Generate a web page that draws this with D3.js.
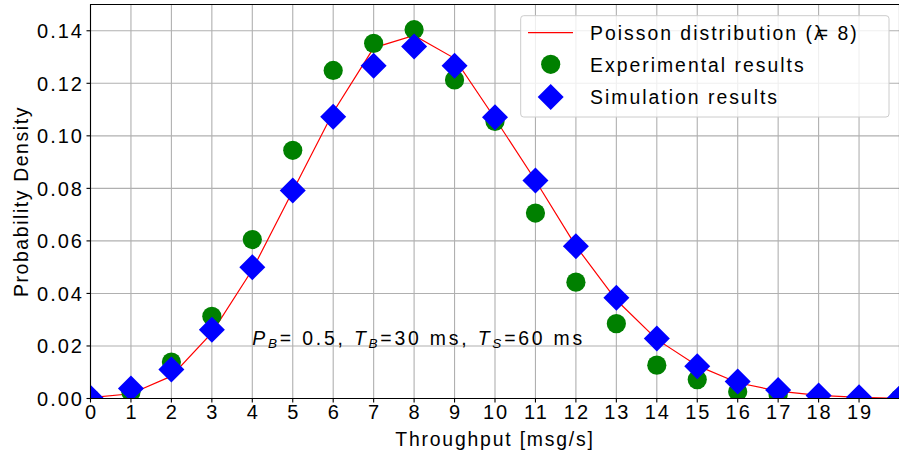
<!DOCTYPE html>
<html><head><meta charset="utf-8">
<script src="https://cdn.jsdelivr.net/npm/d3@7"></script>
<style>
body{margin:0;background:#fff}
svg{display:block}
text{font-family:"Liberation Sans",Arial,sans-serif;fill:#000}
</style>
</head><body>
<svg id="c" width="899" height="459"></svg>
<script>
// ---- data ----
const kValues     = [0,1,2,3,4,5,6,7,8,9,10,11,12,13,14,15,16,17,18,19,20];
const poissonLine = [0.0003,0.0018,0.0085,0.0250,0.0490,0.0790,0.1090,0.1335,0.1382,0.1295,0.1066,0.0830,0.0580,0.0375,0.0225,0.0125,0.0060,0.0028,0.0012,0.0004,0.0001];
const experimental= [0.0000,0.0024,0.0139,0.0313,0.0605,0.0945,0.1249,0.1352,0.1404,0.1213,0.1055,0.0706,0.0443,0.0285,0.0127,0.0072,0.0026,0.0015,0.0005,0.0000,0.0000];
const simulation  = [0.0003,0.0038,0.0110,0.0262,0.0500,0.0792,0.1073,0.1267,0.1340,0.1267,0.1071,0.0830,0.0580,0.0384,0.0228,0.0123,0.0065,0.0032,0.0011,0.0005,0.0001];
const xTicks = [0,1,2,3,4,5,6,7,8,9,10,11,12,13,14,15,16,17,18,19];
const yTicks = [0,0.02,0.04,0.06,0.08,0.10,0.12,0.14];
const legendLabels = ["Poisson distribution (λ", "Experimental results", "Simulation results"];

// ---- layout ----
const L = 90.5, R = 899.5, T = 4.5, B = 398.5;
const FS = 19.4;
const x = d3.scaleLinear().domain([0, 20]).range([L, R]);
const y = d3.scaleLinear().domain([0, 0.15]).range([B, T]);

const svg = d3.select("#c");
svg.append("defs").append("clipPath").attr("id","clip")
  .append("rect").attr("x",L).attr("y",T).attr("width",R-L).attr("height",B-T);

// grid
const grid = svg.append("g").attr("stroke","#b0b0b0").attr("stroke-width",1.1);
grid.selectAll("line.gx").data(xTicks).join("line")
  .attr("x1",d=>x(d)).attr("x2",d=>x(d)).attr("y1",T).attr("y2",B);
grid.selectAll("line.gy").data(yTicks).join("line").attr("class","gy")
  .attr("x1",L).attr("x2",R).attr("y1",d=>y(d)).attr("y2",d=>y(d));

// annotation (inside axes)
const ann = svg.append("text").attr("x",x(4)).attr("y",y(0.02)-0.5)
  .attr("font-size",FS).style("letter-spacing","2.8px");
function sub(main, s, rest){
  ann.append("tspan").attr("font-style","italic").text(main);
  ann.append("tspan").attr("font-style","italic").attr("font-size",13.5).attr("dy",3).text(s);
  ann.append("tspan").attr("dy",-3).text(rest);
}
sub("P","B","= 0.5, ");
sub("T","B","=30 ms, ");
sub("T","S","=60 ms");

// plot contents
const plot = svg.append("g").attr("clip-path","url(#clip)");
const pts = kValues.map((k,i)=>({k, p:poissonLine[i], e:experimental[i], s:simulation[i]}));
plot.append("path").datum(pts)
  .attr("fill","none").attr("stroke","#ff0000").attr("stroke-width",1.2)
  .attr("d", d3.line().x(d=>x(d.k)).y(d=>y(d.p)));
plot.selectAll("circle.e").data(pts).join("circle").attr("class","e")
  .attr("cx",d=>x(d.k)).attr("cy",d=>y(d.e)).attr("r",9.6).attr("fill","#008000");
const D = 13;
const diamond = `M0,${-D}L${D},0L0,${D}L${-D},0Z`;
plot.selectAll("path.s").data(pts).join("path").attr("class","s")
  .attr("transform",d=>`translate(${x(d.k)},${y(d.s)})`)
  .attr("d",diamond).attr("fill","#0000ff");

// spines
const sp = svg.append("g").attr("stroke","#000").attr("stroke-width",1.1).attr("fill","none");
sp.append("path").attr("d",`M${L},${B}V${T}H${R}V${B}Z`);

// ticks
const tk = svg.append("g").attr("stroke","#000").attr("stroke-width",1.1);
tk.selectAll("line.tx").data(xTicks).join("line").attr("class","tx")
  .attr("x1",d=>x(d)).attr("x2",d=>x(d)).attr("y1",B).attr("y2",B+4);
tk.selectAll("line.ty").data(yTicks).join("line").attr("class","ty")
  .attr("x1",L-4).attr("x2",L).attr("y1",d=>y(d)).attr("y2",d=>y(d));

svg.append("g").selectAll("text").data(xTicks).join("text")
  .attr("x",d=>x(d)+1).attr("y",419).attr("text-anchor","middle")
  .attr("font-size",20).style("letter-spacing","2px").text(d=>d);
svg.append("g").selectAll("text").data(yTicks).join("text")
  .attr("x",84).attr("y",d=>y(d)+7.3).attr("text-anchor","end")
  .attr("font-size",20).style("letter-spacing","2px").text(d=>d.toFixed(2));

// axis labels
svg.append("text").attr("x",(L+R)/2).attr("y",446).attr("text-anchor","middle")
  .attr("font-size",FS).style("letter-spacing","1.8px").text("Throughput [msg/s]");
svg.append("text").attr("transform",`translate(28,${(T+B)/2}) rotate(-90)`)
  .attr("text-anchor","middle").attr("font-size",FS).style("letter-spacing","1.6px")
  .text("Probability Density");

// legend
const lg = svg.append("g");
lg.append("rect").attr("x",520.7).attr("y",15.7).attr("width",368.3).attr("height",101.3)
  .attr("rx",3).attr("fill","#fff").attr("fill-opacity",0.8)
  .attr("stroke","#cccccc").attr("stroke-width",1);
lg.append("line").attr("x1",528).attr("x2",573).attr("y1",32.7).attr("y2",32.7)
  .attr("stroke","#ff0000").attr("stroke-width",1.2);
lg.append("circle").attr("cx",550.7).attr("cy",64.3).attr("r",9.6).attr("fill","#008000");
lg.append("path").attr("transform","translate(550.7,97)").attr("d",diamond).attr("fill","#0000ff");
const baselines = [39.5, 71.7, 104.2];
legendLabels.forEach((t,i)=>{
  const tx = lg.append("text").attr("x",590).attr("y",baselines[i])
    .attr("font-size",FS).style("letter-spacing","2px").text(t);
  if(i===0) tx.append("tspan").attr("dx",-9).text("= 8)");
});
</script>
</body></html>
